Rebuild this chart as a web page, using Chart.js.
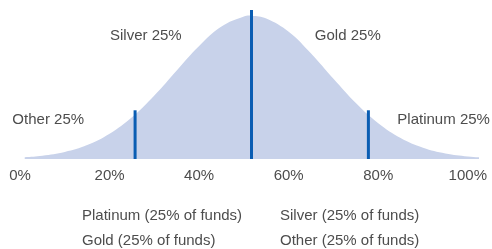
<!DOCTYPE html>
<html><head><meta charset="utf-8">
<script src="https://cdn.jsdelivr.net/npm/chart.js@4"></script>
<style>
html,body{margin:0;padding:0;background:#fff;}
#wrap{position:relative;width:492px;height:249px;overflow:hidden;}
canvas{position:absolute;left:0;top:0;}
.leg{position:absolute;font:15px "Liberation Sans",Arial,sans-serif;color:#4d4d4d;white-space:nowrap;line-height:18px;}
</style></head><body>
<div id="wrap"><canvas id="c" width="492" height="249"></canvas></div>
<script>
// ---- data ----
const tiers = ['Platinum', 'Silver', 'Gold', 'Other'];
const tierShares = [25, 25, 25, 25];
const curveX = [1, 5, 10, 15, 20, 25, 30, 35, 40, 45, 50, 51.7, 55, 60, 65, 70, 75, 80, 85, 90, 95, 100, 102.5];
const curveY = [1.2, 2.3, 4.9, 9.7, 17.6, 29.1, 44.3, 61.8, 78.9, 92.5, 99.5, 100, 98.1, 88.8, 73.6, 56, 39.1, 25, 14.7, 7.9, 3.9, 1.8, 1.2];
const markerX = [25.7, 51.7, 77.8];
const markerTop = [34, 104, 34];
const tickValues = [0, 20, 40, 60, 80, 100];
const tickLabels = ['0%', '20%', '40%', '60%', '80%', '100%'];
const zoneOrder = ['Other', 'Silver', 'Gold', 'Platinum'];

const FONT = '"Liberation Sans", Arial, sans-serif';
const TEXT = '#4d4d4d';
const LINE = '#0a5db3';
const FILL = '#c8d2ea';

const curveData = curveX.map((x, i) => ({x: x, y: curveY[i]}));
const datasets = [];
markerX.forEach((mx, i) => {
  datasets.push({
    data: [{x: mx, y: 0}, {x: mx, y: markerTop[i]}],
    borderColor: LINE, borderWidth: 3, pointRadius: 0, fill: false, tension: 0, order: 0
  });
});
datasets.push({
  data: curveData, borderWidth: 0, borderColor: FILL, backgroundColor: FILL,
  fill: 'origin', pointRadius: 0, tension: 0.4, order: 1
});

// zone label anchors (data coordinates)
const zoneAnchor = {Other: [6.3, 27.5], Silver: [28.1, 86], Gold: [73.2, 86], Platinum: [94.6, 27.5]};
const shareOf = name => tierShares[tiers.indexOf(name)];

const zoneLabels = {
  id: 'zoneLabels',
  afterDatasetsDraw(chart) {
    const {ctx, scales: {x, y}} = chart;
    ctx.save();
    ctx.font = '15px ' + FONT;
    ctx.fillStyle = TEXT;
    ctx.textAlign = 'center';
    ctx.textBaseline = 'middle';
    zoneOrder.forEach(n => {
      const a = zoneAnchor[n];
      ctx.fillText(n + ' ' + shareOf(n) + '%', x.getPixelForValue(a[0]), y.getPixelForValue(a[1]));
    });
    ctx.restore();
  }
};

new Chart(document.getElementById('c'), {
  type: 'line',
  data: {datasets: datasets},
  options: {
    responsive: false, animation: false, devicePixelRatio: 1,
    layout: {padding: {left: 20, right: 13, top: 10, bottom: 56}},
    plugins: {legend: {display: false}, tooltip: {enabled: false}},
    scales: {
      x: {
        type: 'linear', min: 0, max: 102.5,
        grid: {display: false, drawTicks: false}, border: {display: false},
        afterBuildTicks: s => { s.ticks = tickValues.map(v => ({value: v})); },
        afterFit: s => { s.paddingLeft = 0; s.paddingRight = 0; },
        ticks: {
          autoSkip: false, maxRotation: 0, padding: 8,
          color: TEXT, font: {family: FONT, size: 15},
          callback: v => tickLabels[tickValues.indexOf(v)]
        }
      },
      y: {display: false, min: 0, max: 104}
    }
  },
  plugins: [zoneLabels]
});

// legend (two columns)
const wrap = document.getElementById('wrap');
const colLeft = [82, 280];
const rowTop = [206, 231];
tiers.forEach((t, i) => {
  const d = document.createElement('div');
  d.className = 'leg';
  d.textContent = t + ' (' + tierShares[i] + '% of funds)';
  d.style.left = colLeft[i % 2] + 'px';
  d.style.top = rowTop[Math.floor(i / 2)] + 'px';
  wrap.appendChild(d);
});
</script>
</body></html>
